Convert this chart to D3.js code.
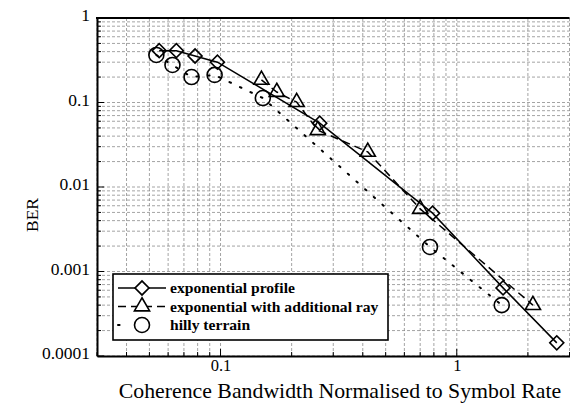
<!DOCTYPE html>
<html>
<head>
<meta charset="utf-8">
<script src="https://cdn.jsdelivr.net/npm/d3@7"></script>
<style>
  html, body { margin: 0; padding: 0; background: #fff; }
  svg { display: block; }
  svg text { font-family: "Liberation Serif", Tinos, "Times New Roman", "Nimbus Roman", "DejaVu Serif", serif; }
</style>
</head>
<body>
<svg id="chart" width="570" height="403"></svg>
<script>
// ---- data ----
const seriesNames = ["exponential profile", "exponential with additional ray", "hilly terrain"];
const expX  = [0.055, 0.065, 0.078, 0.097, 0.263, 0.79, 1.57, 2.65];
const expY  = [0.41, 0.41, 0.355, 0.30, 0.057, 0.0049, 0.00064, 0.000143];
const rayX  = [0.149, 0.173, 0.21, 0.258, 0.42, 0.70, 2.10];
const rayY  = [0.185, 0.133, 0.101, 0.047, 0.026, 0.0055, 0.0004];
const hillX = [0.0535, 0.0626, 0.0754, 0.0944, 0.151, 0.77, 1.55];
const hillY = [0.365, 0.278, 0.20, 0.212, 0.113, 0.00195, 0.0004];
const xTicks = [0.1, 1];
const xTickLabels = ["0.1", "1"];
const yTicks = [1, 0.1, 0.01, 0.001, 0.0001];
const yTickLabels = ["1", "0.1", "0.01", "0.001", "0.0001"];
const xTitle = "Coherence Bandwidth Normalised to Symbol Rate";
const yTitle = "BER";

// ---- layout ----
const svg = d3.select("#chart");
const L = 97, R = 569.5, T = 18, B = 356;
const x = d3.scaleLog().domain([0.03, 3]).range([L, R]);
const y = d3.scaleLog().domain([0.0001, 1]).range([B, T]);

// minor positions
const xMinor = [];
for (let e = -2; e <= 0; e++) for (let m = 1; m <= 9; m++) {
  const v = m * Math.pow(10, e);
  if (v >= 0.03 - 1e-9 && v <= 3 + 1e-9) xMinor.push(v);
}
const yMinor = [];
for (let e = -4; e <= -1; e++) for (let m = 1; m <= 9; m++) yMinor.push(m * Math.pow(10, e));

// grid
const grid = svg.append("g").attr("stroke", "#858585").attr("stroke-width", 0.75)
  .attr("stroke-dasharray", "3,2");
grid.selectAll("line.gx").data(xMinor).join("line")
  .attr("x1", d => x(d)).attr("x2", d => x(d)).attr("y1", T).attr("y2", B);
grid.selectAll("line.gy").data(yMinor).join("line")
  .attr("y1", d => y(d)).attr("y2", d => y(d)).attr("x1", L).attr("x2", R);

// inner minor ticks
const ticks = svg.append("g").attr("stroke", "#000").attr("stroke-width", 1);
ticks.selectAll("line.tx").data(xMinor).join("line")
  .attr("x1", d => x(d)).attr("x2", d => x(d))
  .attr("y1", B).attr("y2", d => xTicks.includes(d) ? B - 7 : B - 4);
ticks.selectAll("line.ty").data(yMinor.concat([1])).join("line")
  .attr("y1", d => y(d)).attr("y2", d => y(d))
  .attr("x1", L).attr("x2", d => yTicks.includes(d) ? L + 7 : L + 4);

// axes (labels)
const xAxis = svg.append("g").attr("transform", `translate(0,${B})`)
  .call(d3.axisBottom(x).tickValues(xTicks).tickFormat((d, i) => xTickLabels[i]).tickSize(0).tickPadding(3));
xAxis.select(".domain").attr("stroke", "#000").attr("stroke-width", 2);
xAxis.selectAll("text").attr("font-size", 16.5).attr("fill", "#000");

const yAxis = svg.append("g").attr("transform", `translate(${L},0)`)
  .call(d3.axisLeft(y).tickValues(yTicks).tickFormat((d, i) => yTickLabels[i]).tickSize(0).tickPadding(7));
yAxis.select(".domain").attr("stroke", "#000").attr("stroke-width", 2);
yAxis.selectAll("text").attr("font-size", 17.5).attr("fill", "#000").attr("dy", "0.15em");
svg.selectAll("g").attr("font-family", null);

// top border
svg.append("line").attr("x1", L - 1).attr("x2", R).attr("y1", T).attr("y2", T)
  .attr("stroke", "#000").attr("stroke-width", 2.2);

// series
const series = [
  { xs: expX,  ys: expY,  dash: null,     shape: "diamond" },
  { xs: rayX,  ys: rayY,  dash: "8,5",    shape: "triangle" },
  { xs: hillX, ys: hillY, dash: "1.6,10", shape: "circle" }
];
const line = d3.line().x(d => x(d[0])).y(d => y(d[1]));

function drawMarker(g, shape, cx, cy) {
  if (shape === "diamond") {
    g.append("path").attr("d", d3.symbol(d3.symbolSquare, 98)())
      .attr("transform", `translate(${cx},${cy}) rotate(45)`);
  } else if (shape === "triangle") {
    g.append("path").attr("d", d3.symbol(d3.symbolTriangle, 100)())
      .attr("transform", `translate(${cx},${cy})`);
  } else {
    g.append("circle").attr("cx", cx).attr("cy", cy).attr("r", 7.5);
  }
}

series.forEach(s => {
  const pts = s.xs.map((v, i) => [v, s.ys[i]]);
  svg.append("path").datum(pts).attr("d", line)
    .attr("fill", "none").attr("stroke", "#000").attr("stroke-width", s.dash === "1.6,10" ? 2 : 1.5)
    .attr("stroke-linecap", s.dash === "1.6,10" ? "round" : "butt")
    .attr("stroke-dasharray", s.dash);
  const mg = svg.append("g").attr("fill", "none").attr("stroke", "#000").attr("stroke-width", 1.6);
  pts.forEach(p => drawMarker(mg, s.shape, x(p[0]), y(p[1])));
});

// legend
const lg = svg.append("g");
lg.append("rect").attr("x", 113).attr("y", 274).attr("width", 275).attr("height", 66)
  .attr("fill", "#fff").attr("stroke", "#000").attr("stroke-width", 1.6);
const rowsY = [288, 306.5, 325];
series.forEach((s, i) => {
  const ly = rowsY[i];
  lg.append("line").attr("x1", 118).attr("x2", 166).attr("y1", ly).attr("y2", ly)
    .attr("stroke", "#000").attr("stroke-width", s.dash === "1.6,10" ? 2 : 1.5)
    .attr("stroke-linecap", s.dash === "1.6,10" ? "round" : "butt")
    .attr("stroke-dasharray", s.dash === "1.6,10" ? "1.6,22.5" : s.dash);
  const mg = lg.append("g").attr("fill", "#fff").attr("stroke", "#000").attr("stroke-width", 1.6);
  drawMarker(mg, s.shape, 142, ly);
  lg.append("text").attr("x", 170).attr("y", ly).attr("dy", "0.33em")
    .attr("font-weight", "bold").attr("font-size", 15.6)
    .text(seriesNames[i]);
});

// titles
svg.append("text").attr("x", 340).attr("y", 398).attr("text-anchor", "middle")
  .attr("font-size", 21.8).text(xTitle);
svg.append("text").attr("transform", "translate(38,215) rotate(-90)").attr("text-anchor", "middle")
  .attr("font-size", 17.5).text(yTitle);
</script>
</body>
</html>
